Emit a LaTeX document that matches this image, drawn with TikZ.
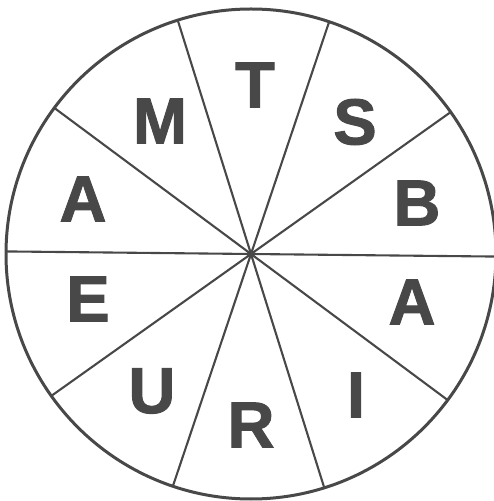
\documentclass[tikz,border=0pt]{standalone}
\usepackage{fontspec}
\setmainfont{Liberation Sans}
\newfontfamily\heavy{Liberation Sans Bold}[FakeBold=1.5]
\usetikzlibrary{calc}
\definecolor{ink}{HTML}{484848}
\begin{document}
\begin{tikzpicture}[x=1pt,y=1pt,
  spoke/.style={draw=ink,line width=2.1pt},
  rim/.style={draw=ink,line width=3pt},
  letter/.style={text=ink,inner sep=0pt,anchor=center,font=\fontsize{65}{65}\heavy}]
\useasboundingbox (0,0) rectangle (494,501);
\coordinate (c) at (251,247);
\foreach \k in {0,...,9}{
  \coordinate (e\k) at ($(c)+(\k*36-0.6:245)$);
  \draw[spoke] (c) -- (e\k);
}
\draw[rim] (c) circle[radius=245];
\fill[ink] (c) circle[radius=4];
\node[letter] (t) at (255,416) {T};
\node[letter] (s) at (355,379) {S};
\node[letter] (b) at (417,298) {B};
\node[letter] (a1) at (412,199) {A};
\node[letter] (i) at (356,106) {I};
\node[letter] (r) at (251,76) {R};
\node[letter] (u) at (152,110) {U};
\node[letter] (e) at (88,202) {E};
\node[letter] (a2) at (83,302) {A};
\node[letter] (m) at (160,380) {M};
\end{tikzpicture}
\end{document}
